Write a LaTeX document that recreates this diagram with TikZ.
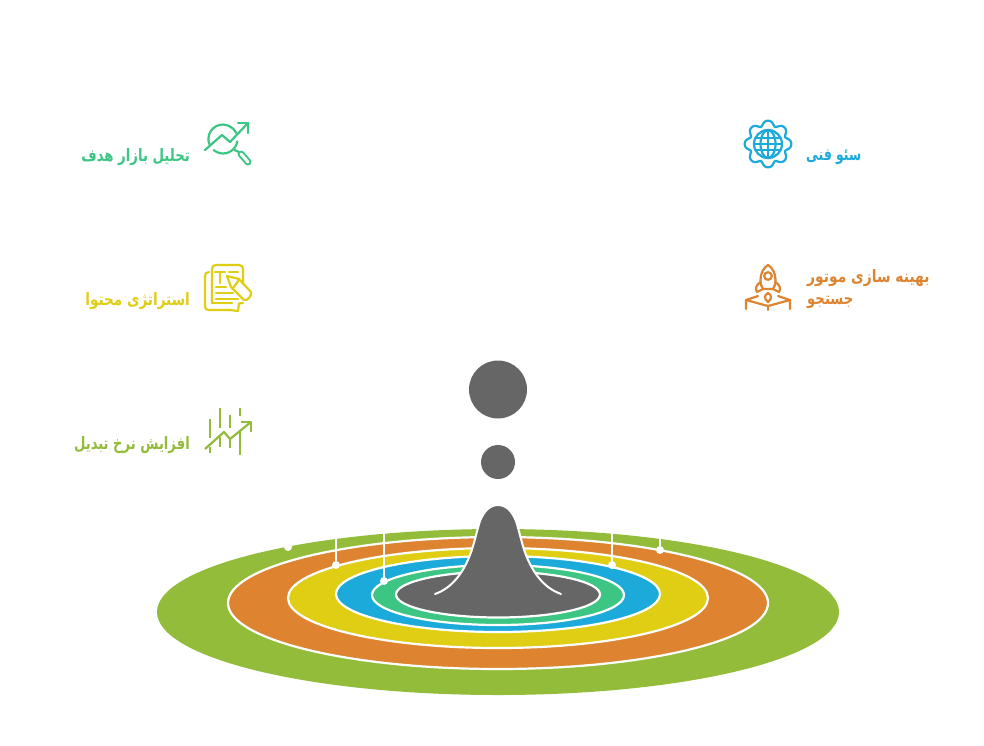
\documentclass[tikz,border=0pt]{standalone}
\usepackage{graphicx}
\usepackage{fontspec}
\TeXXeTstate=1
\newfontfamily\arabicfont[Script=Arabic]{DejaVu Sans}
\definecolor{cGreen}{HTML}{93BC3A}
\definecolor{cOrange}{HTML}{DE8431}
\definecolor{cYellow}{HTML}{DFCE14}
\definecolor{cBlue}{HTML}{1CAADB}
\definecolor{cTeal}{HTML}{3CC583}
\definecolor{cGrey}{HTML}{666666}
\tikzset{
  ring/.style={draw=white,line width=2.2pt},
  leader/.style={draw=white,line width=1.5pt},
  dotmark/.style={circle,fill=white,inner sep=0pt,minimum size=8pt},
  drop/.style={circle,fill=cGrey,inner sep=0pt},
  lab/.style={font=\arabicfont\bfseries\fontsize{17}{24}\selectfont,inner sep=0pt},
  ico/.style={line width=2.2pt,line cap=round,line join=round,fill=none},
}
\begin{document}
\begin{tikzpicture}[x=1pt,y=-1pt]
\useasboundingbox (0,0) rectangle (984,745);
\fill[white] (0,0) rectangle (984,745);
% rings
\fill[cGreen] (498,612) ellipse [x radius=341,y radius=83];
\path[fill=cOrange,ring] (498,603) ellipse [x radius=270,y radius=66];
\path[fill=cYellow,ring] (498,598) ellipse [x radius=210,y radius=50];
\path[fill=cBlue,ring] (498,594) ellipse [x radius=162,y radius=38];
\path[fill=cTeal,ring] (498,595) ellipse [x radius=126,y radius=30];
\path[fill=cGrey,ring] (498,594.5) ellipse [x radius=102,y radius=23];
% leaders
\node[dotmark] (d1) at (288,547) {};
\node[dotmark] (d2) at (336,565) {};
\node[dotmark] (d3) at (384,581) {};
\node[dotmark] (d4) at (612,565) {};
\node[dotmark] (d5) at (660,550) {};
\coordinate (t2) at (336,538);
\coordinate (t3) at (384,533);
\coordinate (t4) at (612,533);
\coordinate (t5) at (660,538);
\draw[leader] (d2) -- (t2);
\draw[leader] (d3) -- (t3);
\draw[leader] (d4) -- (t4);
\draw[leader] (d5) -- (t5);
% bell
\path[fill=cGrey,draw=white,line width=2pt,line cap=round]
  (435,594) .. controls (452,588) and (463,573) .. (470,555)
  .. controls (474,545) and (477,530) .. (480,521)
  .. controls (484,511) and (490,505) .. (498,505)
  .. controls (506,505) and (512,511) .. (516,521)
  .. controls (519,530) and (522,545) .. (526,555)
  .. controls (533,573) and (544,588) .. (561,594);
% drops
\node[drop,minimum size=58pt] (big) at (498,389.5) {};
\node[drop,minimum size=34pt] (small) at (498,462) {};
% labels
\node[lab,text=cTeal,anchor=east] (l1) at (190,157) {\scalebox{.78}[1]{\beginR تحلیل بازار هدف\endR}};
\node[lab,text=cYellow,anchor=east] (l2) at (190,301) {\scalebox{.80}[1]{\beginR استراتژی محتوا\endR}};
\node[lab,text=cGreen,anchor=east] (l3) at (190,445) {\scalebox{.774}[1]{\beginR افزایش نرخ تبدیل\endR}};
\node[lab,text=cBlue,anchor=west] (r1) at (806,157) {\scalebox{.728}[1]{\beginR سئو فنی\endR}};
\node[lab,text=cOrange,anchor=west] (r2) at (807,278) {\scalebox{.815}[1]{\beginR بهینه سازی موتور\endR}};
\node[lab,text=cOrange,anchor=west] (r3) at (807,302) {\scalebox{.777}[1]{\beginR جستجو\endR}};
% icon: chart + magnifier
\begin{scope}[ico,draw=cTeal]
\draw (209.3,144) arc [start angle=160,end angle=335,radius=14.5];
\draw (237.3,141.5) arc [start angle=10,end angle=130,radius=14.5];
\draw (205,150) -- (222,135) -- (230,142) -- (248,123);
\draw (238,123) -- (248,123) -- (248,133);
\draw (234.5,150) -- (239,152);
\draw[line width=7pt] (241,154) -- (248,162);
\draw[white,line width=3pt] (241,154) -- (248,162);
\end{scope}
% icon: document + pencil
\begin{scope}[ico,draw=cYellow]
\draw (212,303) -- (212,269) .. controls (212,266) and (214,265) .. (216,265) -- (239,265) .. controls (242,265) and (243,267) .. (243,269) -- (243,284);
\draw (212,303) -- (232,303);
\draw (209,272) .. controls (206,272) and (205,274) .. (205,276) -- (205,306) .. controls (205,309) and (206,310) .. (209,310) -- (230,310) -- (238,311) -- (239,303.5) -- (243,303);
\draw (215,272) -- (225,272);
\draw (220,272) -- (220,283);
\draw (229,272) -- (238,272);
\draw (216,287) -- (226,287);
\draw (216,293) -- (233,293);
\draw (216,299) -- (238,299);
\draw (227,276) -- (239,279) -- (251,292) .. controls (252,295) and (248,301) .. (244,300) -- (231,287) -- cycle;
\draw (233,288) -- (239,280);
\end{scope}
% icon: growth
\begin{scope}[ico,draw=cGreen,line cap=butt]
\draw (205,449) -- (224,432) -- (230,439) -- (251,422);
\draw (241,422) -- (251,422) -- (251,432);
\draw (210,419) -- (210,438);
\draw (210,447) -- (210,453);
\draw (220,408) -- (220,428);
\draw (220,437) -- (220,447);
\draw (230,415) -- (230,428);
\draw (230,438) -- (230,448);
\draw (240,408) -- (240,416);
\draw (240,431) -- (240,455);
\end{scope}
% icon: gear + globe
\begin{scope}[ico,draw=cBlue]
\draw plot[domain=0:360,samples=241,smooth] ({768+(21.3+2.4*cos(8*\x)-0.4*cos(16*\x))*cos(\x)},{144+(21.3+2.4*cos(8*\x)-0.4*cos(16*\x))*sin(\x)}) -- cycle;
\draw (768,144) circle [radius=14];
\draw (768,144) ellipse [x radius=7.5,y radius=14];
\draw (768,130) -- (768,158);
\draw (754,144) -- (782,144);
\draw (755.5,138) -- (780.5,138);
\draw (755.5,150) -- (780.5,150);
\end{scope}
% icon: rocket
\begin{scope}[ico,draw=cOrange]
\draw (768,265) .. controls (763,268) and (760.5,274) .. (760.5,280) .. controls (760.5,284) and (761.5,287) .. (763,289) -- (773,289) .. controls (774.5,287) and (775.5,284) .. (775.5,280) .. controls (775.5,274) and (773,268) .. (768,265) -- cycle;
\draw (768,276) circle [radius=3.8];
\draw (760.5,282) .. controls (756,285) and (755,289) .. (757,292) -- (763,289);
\draw (775.5,282) .. controls (780,285) and (781,289) .. (779,292) -- (773,289);
\draw (768,293) .. controls (764,295) and (764,299) .. (768,302) .. controls (772,299) and (772,295) .. (768,293) -- cycle;
\draw (746,309) -- (746,300) -- (758,296);
\draw (746,300) -- (768,306) -- (790,300) -- (790,309);
\draw (790,300) -- (778,296);
\draw (768,306) -- (768,310);
\end{scope}
\end{tikzpicture}
\end{document}
